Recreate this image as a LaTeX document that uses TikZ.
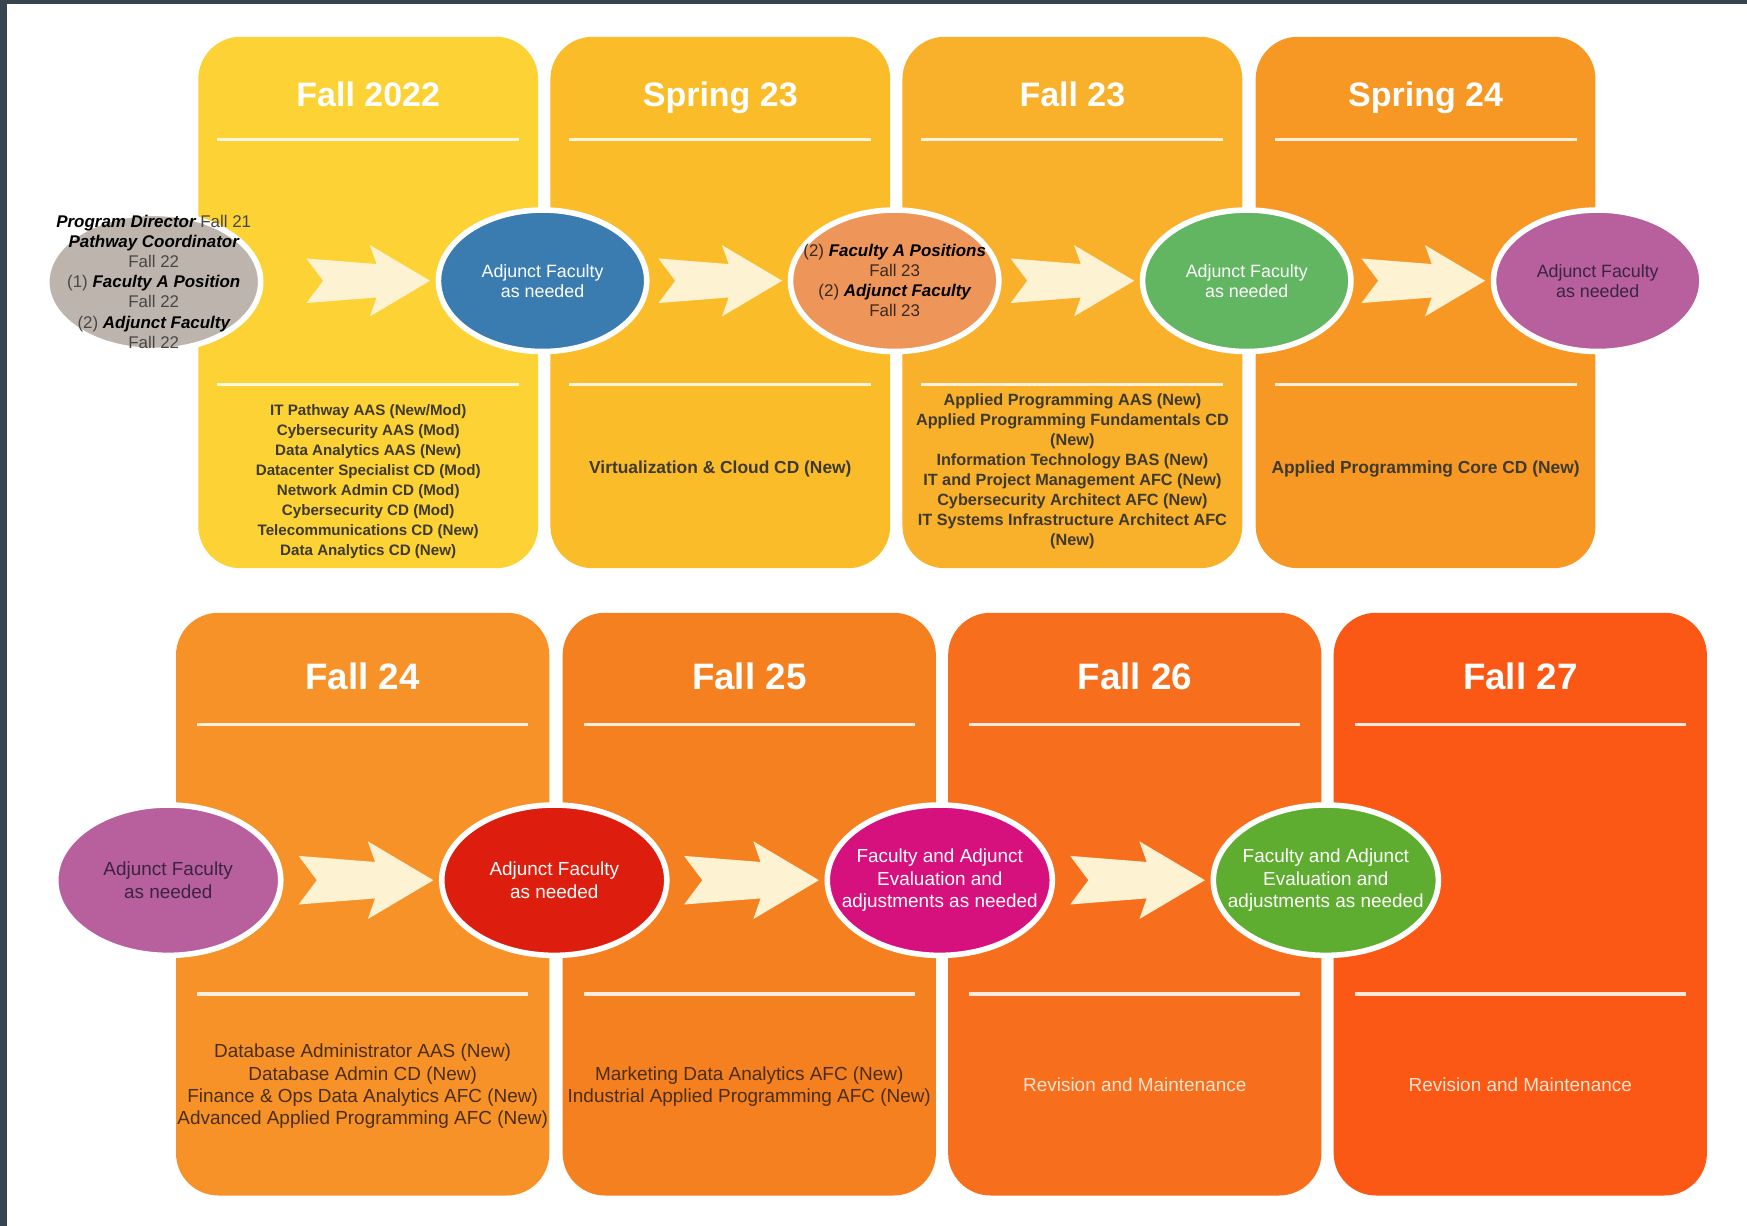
\documentclass[tikz,border=0pt]{standalone}
\usepackage{fontspec}
\setmainfont{Liberation Sans}
\usetikzlibrary{shapes.geometric,calc}
\definecolor{cPa}{HTML}{FCD234}
\definecolor{cPb}{HTML}{FBBC2A}
\definecolor{cPc}{HTML}{F9B02B}
\definecolor{cPd}{HTML}{F79825}
\definecolor{cQa}{HTML}{F79228}
\definecolor{cQb}{HTML}{F58020}
\definecolor{cQc}{HTML}{F76E1C}
\definecolor{cQd}{HTML}{FA5814}
\definecolor{eGrey}{HTML}{BDB5AD}
\definecolor{eBlue}{HTML}{3A7CB0}
\definecolor{eOrange}{HTML}{EE9559}
\definecolor{eGreen}{HTML}{62B662}
\definecolor{ePurple}{HTML}{B85F9E}
\definecolor{eRed}{HTML}{DD1E0E}
\definecolor{eMag}{HTML}{D6107C}
\definecolor{eGreenB}{HTML}{5EAD30}
\definecolor{arrowc}{HTML}{FDF2D2}
\definecolor{darkframe}{HTML}{36454F}
\definecolor{txtTop}{HTML}{3F3A2E}
\definecolor{txtBot}{HTML}{4A2E14}
\definecolor{txtPurp}{HTML}{3A2540}
\definecolor{txtOr}{HTML}{3A2A20}
\definecolor{txtRev}{HTML}{FCE4D0}
\newcommand\bix[1]{{\bfseries\itshape\color{black}#1}}
\begin{document}
\begin{tikzpicture}[x=1pt,y=-1pt,
  panel/.style={rounded corners=38pt},
  hline/.style={draw=white, draw opacity=0.85, line width=3pt},
  headA/.style={text=white, anchor=base, font=\bfseries\fontsize{30.5}{36}\selectfont},
  headB/.style={text=white, anchor=base, font=\bfseries\fontsize{33}{38}\selectfont},
  ell/.style={ellipse, draw=white, line width=5pt, inner sep=0pt},
  ellT/.style={ell, minimum width=187pt, minimum height=127pt},
  ellB/.style={ell, minimum width=202pt, minimum height=135pt},
  etxtT/.style={align=center, inner sep=0pt, font=\fontsize{16}{18}\selectfont},
  etxtB/.style={align=center, inner sep=0pt, font=\fontsize{17}{20}\selectfont},
  lowA/.style={align=center, text=txtTop, inner sep=0pt},
  lowB/.style={align=center, text=txtBot, inner sep=0pt, font=\fontsize{17}{20}\selectfont},
  chev/.pic={\fill[arrowc] (0,0) -- (-54,-32) -- (-48,-15) -- (-111,-20) -- (-96,0) -- (-111,20) -- (-48,15) -- (-54,32) -- cycle;}
]
\useasboundingbox (0,0) rectangle (1568,1100);
\fill[white] (0,0) rectangle (1568,1100);
\fill[darkframe] (0,0) rectangle (6,1100);
\fill[darkframe] (0,0) rectangle (1568,3.5);

% top panels
\fill[cPa, panel] (178,33) rectangle (483,510);
\fill[cPb, panel] (494,33) rectangle (799,510);
\fill[cPc, panel] (810,33) rectangle (1115,510);
\fill[cPd, panel] (1127,33) rectangle (1432,510);
% bottom panels
\fill[cQa, panel] (158,550) rectangle (493,1073);
\fill[cQb, panel] (505,550) rectangle (840,1073);
\fill[cQc, panel] (851,550) rectangle (1186,1073);
\fill[cQd, panel] (1197,550) rectangle (1532,1073);

% headings
\node[headA] (h1) at (330.5,96) {Fall 2022};
\node[headA] (h2) at (646.5,96) {Spring 23};
\node[headA] (h3) at (962.5,96) {Fall 23};
\node[headA] (h4) at (1279.5,96) {Spring 24};
\node[headB] (h5) at (325.5,619) {Fall 24};
\node[headB] (h6) at (672.5,619) {Fall 25};
\node[headB] (h7) at (1018.5,619) {Fall 26};
\node[headB] (h8) at (1364.5,619) {Fall 27};

% header / separator lines
\foreach \a/\b in {178/483,494/799,810/1115,1127/1432}{
  \draw[hline] (\a+17,125) -- (\b-17,125);
  \draw[hline] (\a+17,345) -- (\b-17,345);
}
\foreach \a/\b in {158/493,505/840,851/1186,1197/1532}{
  \draw[hline] (\a+19,650) -- (\b-19,650);
  \draw[hline] (\a+19,892) -- (\b-19,892);
}

% lower texts, top row
\node[lowA, font=\bfseries\fontsize{13.6}{18}\selectfont] (t1) at (330.5,432) {IT Pathway AAS (New/Mod)\\Cybersecurity AAS (Mod)\\Data Analytics AAS (New)\\Datacenter Specialist CD (Mod)\\Network Admin CD (Mod)\\Cybersecurity CD (Mod)\\Telecommunications CD (New)\\Data Analytics CD (New)};
\node[lowA, font=\bfseries\fontsize{15.6}{18}\selectfont] (t2) at (646.5,421) {Virtualization \& Cloud CD (New)};
\node[lowA, font=\bfseries\fontsize{14.6}{18}\selectfont] (t3) at (962.5,423) {Applied Programming AAS (New)\\Applied Programming Fundamentals CD\\(New)\\Information Technology BAS (New)\\IT and Project Management AFC (New)\\Cybersecurity Architect AFC (New)\\IT Systems Infrastructure Architect AFC\\(New)};
\node[lowA, font=\bfseries\fontsize{15.6}{18}\selectfont] (t4) at (1279.5,421) {Applied Programming Core CD (New)};

% lower texts, bottom row
\node[lowB] (t5) at (325.5,975) {Database Administrator AAS (New)\\Database Admin CD (New)\\Finance \& Ops Data Analytics AFC (New)\\Advanced Applied Programming AFC (New)};
\node[lowB] (t6) at (672.5,975) {Marketing Data Analytics AFC (New)\\Industrial Applied Programming AFC (New)};
\node[lowB, text=txtRev] (t7) at (1018.5,974) {Revision and Maintenance};
\node[lowB, text=txtRev] (t8) at (1364.5,974) {Revision and Maintenance};

% ellipses top row
\node[ell, fill=eGrey, minimum width=192pt, minimum height=123pt] (grey) at (138,253) {};
\node[etxtT, text=black!72, font=\fontsize{15.2}{18}\selectfont] (greyt) at (grey.center)
  {\bix{Program Director} Fall 21\\\bix{Pathway Coordinator}\\Fall 22\\(1) \bix{Faculty A Position}\\Fall 22\\(2) \bix{Adjunct Faculty}\\Fall 22};
\node[ellT, fill=eBlue] (blue) at (487,252) {};
\node[etxtT, text=white] (bluet) at (blue.center) {Adjunct Faculty\\as needed};
\node[ellT, fill=eOrange] (orng) at (803,252) {};
\node[etxtT, text=txtOr, font=\fontsize{15.2}{18}\selectfont] (orngt) at (orng.center) {(2) \bix{Faculty A Positions}\\Fall 23\\(2) \bix{Adjunct Faculty}\\Fall 23};
\node[ellT, fill=eGreen] (green) at (1119,252) {};
\node[etxtT, text=white] (greent) at (green.center) {Adjunct Faculty\\as needed};
\node[ellT, fill=ePurple] (purp) at (1434,252) {};
\node[etxtT, text=txtPurp] (purpt) at (purp.center) {Adjunct Faculty\\as needed};

% ellipses bottom row
\node[ellB, fill=ePurple] (purpb) at (151,790) {};
\node[etxtB, text=txtPurp] (purpbt) at (purpb.center) {Adjunct Faculty\\as needed};
\node[ellB, fill=eRed] (red) at (497.5,790) {};
\node[etxtB, text=white] (redt) at (red.center) {Adjunct Faculty\\as needed};
\node[ellB, fill=eMag] (mag) at (843.5,790) {};
\node[etxtB, text=white] (magt) at (mag.center) {Faculty and Adjunct\\Evaluation and\\adjustments as needed};
\node[ellB, fill=eGreenB] (greenb) at (1190,790) {};
\node[etxtB, text=white] (greenbt) at (greenb.center) {Faculty and Adjunct\\Evaluation and\\adjustments as needed};

% block arrows, each ending at the next ellipse
\pic at ($(blue.west)+(-5,0)$) {chev};
\pic at ($(orng.west)+(-5,0)$) {chev};
\pic at ($(green.west)+(-5,0)$) {chev};
\pic at ($(purp.west)+(-5,0)$) {chev};
\pic[scale=1.09] at ($(red.west)+(-5,0)$) {chev};
\pic[scale=1.09] at ($(mag.west)+(-5,0)$) {chev};
\pic[scale=1.09] at ($(greenb.west)+(-5,0)$) {chev};
\end{tikzpicture}
\end{document}
